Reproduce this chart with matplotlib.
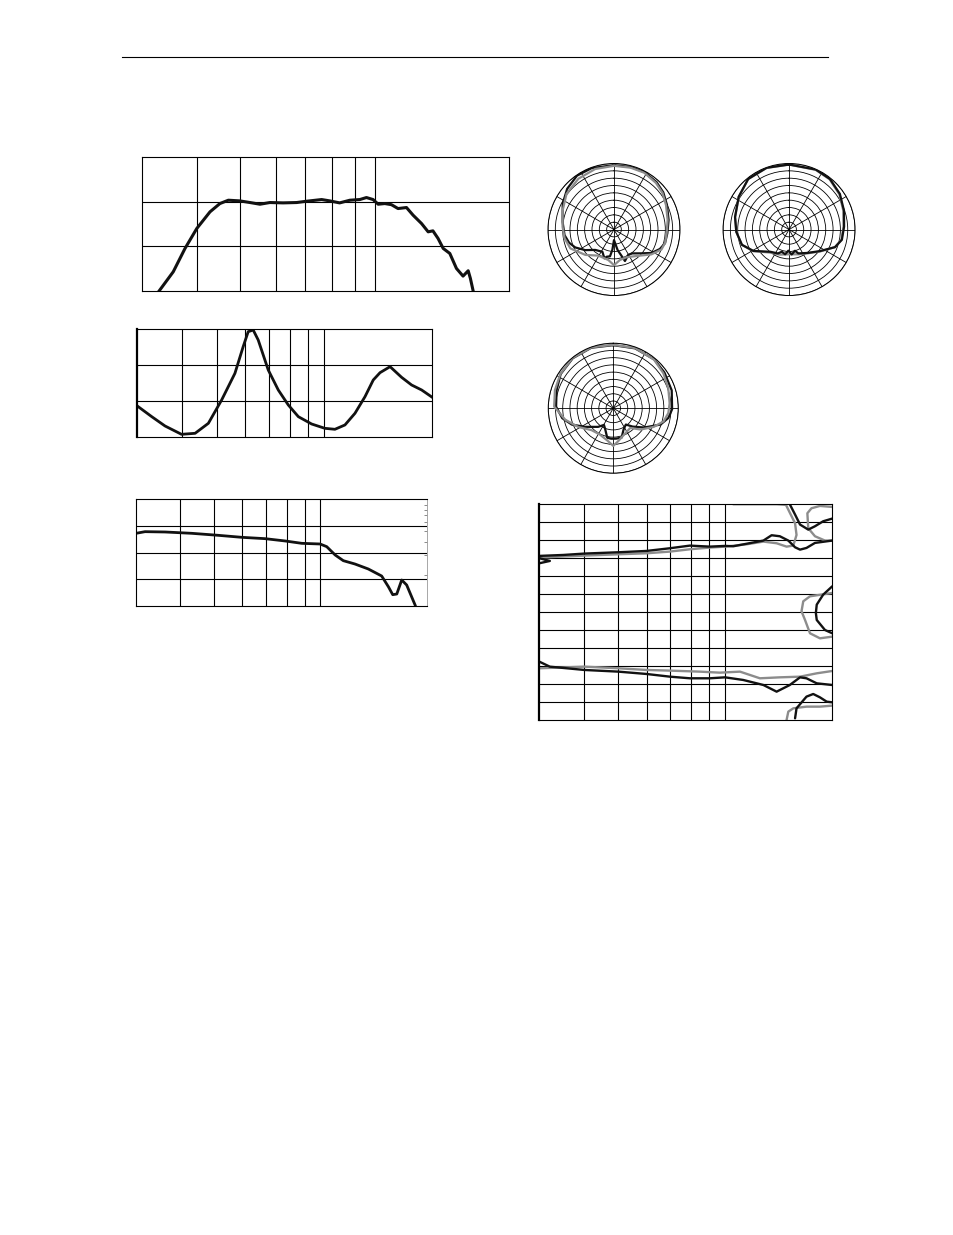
import numpy as np
import matplotlib.pyplot as plt
from matplotlib.lines import Line2D

# shared frequency grid (position along the axis, 0..1)
grid_x = [0.151, 0.269, 0.366, 0.446, 0.518, 0.580, 0.634]

# chart 1: frequency response
resp_x = [0.048, 0.086, 0.118, 0.150, 0.186, 0.213, 0.236, 0.267, 0.295, 0.322, 0.349,
          0.385, 0.422, 0.449, 0.490, 0.512, 0.539, 0.567, 0.594, 0.612, 0.630, 0.644,
          0.662, 0.680, 0.698, 0.721, 0.739, 0.762, 0.780, 0.793, 0.807, 0.821, 0.839,
          0.857, 0.875, 0.889, 0.895, 0.902]
resp_y = [0.0, 0.425, 0.948, 1.395, 1.769, 1.955, 2.03, 2.015, 1.978, 1.94, 1.978,
          1.97, 1.978, 2.007, 2.045, 2.015, 1.97, 2.03, 2.045, 2.09, 2.045, 1.94,
          1.955, 1.93, 1.843, 1.866, 1.694, 1.507, 1.321, 1.343, 1.172, 0.948, 0.836,
          0.5, 0.328, 0.448, 0.276, 0.015]

# chart 2: impedance
imp_x = [0.0, 0.049, 0.094, 0.150, 0.196, 0.241, 0.286, 0.331, 0.359, 0.376, 0.393,
         0.410, 0.444, 0.478, 0.512, 0.546, 0.591, 0.636, 0.670, 0.704, 0.738, 0.772,
         0.800, 0.823, 0.857, 0.896, 0.930, 0.964, 1.0]
imp_y = [0.868, 0.572, 0.314, 0.083, 0.111, 0.388, 1.034, 1.772, 2.511, 2.926, 2.972,
         2.695, 1.865, 1.311, 0.895, 0.572, 0.369, 0.249, 0.222, 0.342, 0.665, 1.126,
         1.588, 1.791, 1.957, 1.662, 1.449, 1.311, 1.108]

# chart 3: phase / group curve
ph_x = [0.0, 0.031, 0.1, 0.192, 0.283, 0.364, 0.444, 0.513, 0.570, 0.633, 0.656, 0.685,
        0.713, 0.753, 0.799, 0.845, 0.868, 0.883, 0.897, 0.914, 0.931, 0.960]
ph_y = [2.725, 2.787, 2.775, 2.725, 2.65, 2.575, 2.525, 2.438, 2.35, 2.325, 2.225, 1.913,
        1.7, 1.575, 1.388, 1.125, 0.725, 0.425, 0.45, 0.975, 0.788, 0.0375]
ph_right_ticks = [3.79, 3.6, 3.41, 3.14, 2.82, 2.41, 1.91, 1.16]

# chart 4: beamwidth contours (angle in degrees)
bw_black_up_x = [0.0, 0.082, 0.154, 0.270, 0.366, 0.446, 0.514, 0.582, 0.635, 0.662, 0.765,
                 0.793, 0.821, 0.850, 0.873, 0.890, 0.912, 0.941, 1.0]
bw_black_up_y = [93.8, 95.4, 97.7, 99.9, 102.1, 106.6, 111.0, 109.3, 110.5, 109.9, 119.4,
                 128.3, 126.6, 119.4, 108.2, 104.3, 107.1, 115.5, 119.4]
bw_black_hook_x = [0.0, 0.036, 0.0]
bw_black_hook_y = [81.5, 85.4, 90.0]
bw_black_top_x = [0.855, 0.873, 0.890, 0.918, 0.941, 0.969, 1.0]
bw_black_top_y = [180.0, 162.8, 146.1, 137.7, 143.3, 151.6, 156.1]
bw_gray_up_x = [0.0, 0.154, 0.270, 0.366, 0.446, 0.514, 0.582, 0.635, 0.708, 0.765, 0.810,
                0.844, 0.867, 0.878, 0.873, 0.856, 0.842, 0.810, 0.662]
bw_gray_up_y = [91.0, 94.3, 96.5, 98.2, 101.0, 104.9, 107.7, 109.3, 113.2, 117.7, 114.9,
                109.3, 111.0, 128.8, 148.3, 165.0, 178.9, 180.0, 180.0]
bw_gray_top_x = [1.0, 0.958, 0.929, 0.915, 0.918, 0.941, 0.975, 1.0]
bw_gray_top_y = [175.5, 177.2, 173.3, 165.0, 140.0, 126.6, 119.4, 119.4]
bw_black_mid_x = [1.0, 0.969, 0.947, 0.944, 0.947, 0.975, 1.0]
bw_black_mid_y = [43.1, 29.2, 12.5, -1.4, -13.1, -29.8, -35.3]
bw_gray_mid_x = [1.0, 0.924, 0.901, 0.895, 0.907, 0.924, 0.958, 1.0]
bw_gray_mid_y = [32.0, 26.4, 18.1, 1.4, -13.1, -35.3, -43.7, -40.9]
bw_black_low_x = [0.0, 0.036, 0.154, 0.270, 0.366, 0.446, 0.514, 0.582, 0.634, 0.696, 0.765,
                  0.810, 0.855, 0.890, 0.912, 0.947, 1.0]
bw_black_low_y = [-82.6, -91.0, -96.5, -99.3, -103.2, -107.7, -110.4, -110.4, -108.8, -113.2,
                  -121.6, -132.7, -121.6, -108.8, -110.4, -118.8, -121.6]
bw_gray_low_x = [0.0, 0.154, 0.270, 0.366, 0.446, 0.548, 0.616, 0.685, 0.753, 0.821, 0.890,
                 0.947, 1.0]
bw_gray_low_y = [-93.7, -91.0, -93.7, -96.5, -97.6, -99.3, -101.0, -99.3, -110.4, -108.8,
                 -107.7, -102.1, -98.2]
bw_black_bot_x = [0.873, 0.878, 0.912, 0.935, 0.958, 0.981, 1.0]
bw_black_bot_y = [-177.2, -160.5, -141.0, -136.6, -142.2, -149.4, -150.5]
bw_gray_bot_x = [0.844, 0.850, 0.867, 0.912, 0.958, 1.0]
bw_gray_bot_y = [-180.0, -166.0, -160.5, -157.7, -157.7, -156.0]

# polar patterns (angle clockwise from front, relative level 0..1)
p1_black_th = [0, 15, 28, 42, 53, 65, 80, 94, 105, 113, 122, 131, 142.6, 150.8, 160.8, 164.7,
               170, 180, 184.6, 188.5, 195, 198.4, 207.6, 222.6, 234.5, 245.2, 253.5, 263.5,
               278.4, 296.7, 311, 325.5, 340, 360]
p1_black_r = [0.975, 0.98, 0.985, 0.965, 0.935, 0.885, 0.84, 0.81, 0.80, 0.755, 0.67, 0.55,
              0.455, 0.44, 0.505, 0.40, 0.316, 0.16, 0.31, 0.41, 0.427, 0.46, 0.38, 0.42,
              0.537, 0.647, 0.708, 0.754, 0.787, 0.87, 0.94, 0.99, 0.99, 0.975]
p1_gray_th = [0, 15, 28, 42, 53, 65, 80, 94, 104.5, 112.8, 123.6, 137.6, 155.7, 169, 180,
              190.5, 210.7, 228.5, 246.6, 260, 273, 290.5, 307, 325, 342.7, 360]
p1_gray_r = [0.965, 0.97, 0.975, 0.95, 0.92, 0.87, 0.825, 0.80, 0.80, 0.78, 0.68, 0.54,
             0.46, 0.47, 0.54, 0.47, 0.46, 0.58, 0.72, 0.76, 0.78, 0.83, 0.90, 0.94, 0.96,
             0.965]

p2_black_th = [0, 24, 39, 55, 71, 87, 101, 111, 125, 142, 158.7, 164.3, 174, 181.8, 189, 198,
               205, 220, 239, 252, 267.5, 283, 303, 321, 340, 360]
p2_black_r = [0.985, 0.995, 0.985, 0.94, 0.88, 0.835, 0.815, 0.745, 0.57, 0.45, 0.388, 0.334,
              0.38, 0.32, 0.38, 0.354, 0.40, 0.44, 0.63, 0.75, 0.80, 0.84, 0.91, 0.985, 0.995,
              0.985]
p2_gray_th = [0, 24, 39, 55, 71, 87, 101, 111, 125, 142, 160, 180, 200, 220, 239, 252, 267.5,
              283, 303, 321, 340, 360]
p2_gray_r = [0.983, 0.99, 0.978, 0.93, 0.87, 0.826, 0.808, 0.745, 0.578, 0.458, 0.40, 0.375,
             0.405, 0.455, 0.635, 0.752, 0.80, 0.838, 0.908, 0.983, 0.993, 0.983]

p3_black_th = [0, 20, 40, 55, 73, 91, 100, 109, 122, 133.5, 142.4, 154.1, 164.2, 174.8, 184,
               191.6, 200.6, 209.2, 219.2, 236.6, 248.4, 259, 271.6, 287.6, 303, 321, 340, 360]
p3_black_r = [0.97, 0.98, 0.98, 0.96, 0.94, 0.905, 0.86, 0.77, 0.56, 0.41, 0.317, 0.363,
              0.47, 0.47, 0.47, 0.463, 0.35, 0.294, 0.37, 0.52, 0.685, 0.80, 0.88, 0.915,
              0.965, 0.99, 0.99, 0.97]
p3_gray_th = [0, 20, 40, 55, 70, 85, 95, 104.6, 114.8, 127.9, 139.4, 157.3, 171.2, 180, 189.4,
              207.4, 224.8, 241.8, 256.6, 271.6, 287.3, 303, 320.8, 340.4, 360]
p3_gray_r = [0.975, 0.985, 0.975, 0.94, 0.90, 0.87, 0.85, 0.80, 0.685, 0.533, 0.40, 0.437,
             0.51, 0.58, 0.51, 0.454, 0.475, 0.61, 0.76, 0.91, 0.94, 0.97, 0.995, 0.995, 0.975]

BLACK = "#111111"
GRAY = "#8c8c8c"

fig = plt.figure(figsize=(9.54, 12.35), dpi=100)
fig.add_artist(Line2D([0.128, 0.868], [0.9538, 0.9538], color="black", lw=0.8,
                      transform=fig.transFigure))


def grid_axes(rect, n_rows, left_lw=0.8):
    ax = fig.add_axes(rect)
    ax.set_xlim(0, 1)
    ax.set_ylim(0, n_rows)
    ax.set_xticks(grid_x)
    ax.set_yticks(range(1, n_rows))
    ax.grid(True, color="black", lw=0.8)
    ax.tick_params(length=0, labelbottom=False, labelleft=False)
    for s in ax.spines.values():
        s.set_linewidth(0.8)
    ax.spines["left"].set_linewidth(left_lw)
    return ax


ax1 = grid_axes([0.1485, 0.7646, 0.385, 0.1083], 3)
ax1.plot(resp_x, resp_y, color=BLACK, lw=2.2, solid_joinstyle="round")

ax2 = grid_axes([0.1439, 0.6459, 0.3092, 0.0877], 3, left_lw=1.6)
ax2.plot(imp_x, imp_y, color=BLACK, lw=2.0, solid_joinstyle="round")

ax3 = grid_axes([0.1426, 0.5093, 0.3047, 0.0864], 4)
ax3.plot(ph_x, ph_y, color=BLACK, lw=2.0, solid_joinstyle="round")
ax3.spines["right"].set_color("#999999")
ax3.spines["right"].set_linewidth(0.6)
ax3.set_yticks(ph_right_ticks, minor=True)
ax3.tick_params(which="minor", left=False, right=True, direction="in", length=2,
                width=0.6, color="#777777")

ax4 = fig.add_axes([0.5653, 0.417, 0.3071, 0.1747])
ax4.set_xlim(0, 1)
ax4.set_ylim(-180, 180)
ax4.set_xticks(grid_x)
ax4.set_yticks(range(-150, 180, 30))
ax4.grid(True, color="black", lw=0.8)
ax4.tick_params(length=0, labelbottom=False, labelleft=False)
for s in ax4.spines.values():
    s.set_linewidth(0.8)
ax4.spines["left"].set_linewidth(1.6)
for xs, ys, c in [(bw_gray_up_x, bw_gray_up_y, GRAY), (bw_gray_top_x, bw_gray_top_y, GRAY),
                  (bw_gray_mid_x, bw_gray_mid_y, GRAY), (bw_gray_low_x, bw_gray_low_y, GRAY),
                  (bw_gray_bot_x, bw_gray_bot_y, GRAY),
                  (bw_black_up_x, bw_black_up_y, BLACK), (bw_black_hook_x, bw_black_hook_y, BLACK),
                  (bw_black_top_x, bw_black_top_y, BLACK), (bw_black_mid_x, bw_black_mid_y, BLACK),
                  (bw_black_low_x, bw_black_low_y, BLACK), (bw_black_bot_x, bw_black_bot_y, BLACK)]:
    ax4.plot(xs, ys, color=c, lw=1.7, solid_capstyle="round", solid_joinstyle="round")


def polar_axes(rect):
    ax = fig.add_axes(rect, projection="polar")
    ax.set_theta_zero_location("N")
    ax.set_theta_direction(-1)
    ax.set_rlim(0, 1)
    ax.set_rgrids(np.arange(1, 10) / 9, labels=[])
    ax.set_thetagrids(range(0, 360, 30), labels=[])
    ax.grid(True, color="black", lw=0.6)
    ax.spines["polar"].set_linewidth(0.7)
    ax.tick_params(length=0)
    return ax


# last flag: draw black on top
polars = [
    ([0.5744, 0.7607, 0.1384, 0.1069], p1_gray_th, p1_gray_r, p1_black_th, p1_black_r, False),
    ([0.7579, 0.7607, 0.1384, 0.1069], p2_gray_th, p2_gray_r, p2_black_th, p2_black_r, True),
    ([0.5747, 0.6168, 0.1363, 0.1053], p3_gray_th, p3_gray_r, p3_black_th, p3_black_r, False),
]
for rect, gth, gr, bth, br, black_top in polars:
    ax = polar_axes(rect)
    zb = 3 if black_top else 2
    ax.plot(np.radians(bth), br, color=BLACK, lw=1.6, solid_joinstyle="round", zorder=zb)
    ax.plot(np.radians(gth), gr, color=GRAY, lw=1.6, solid_joinstyle="round", zorder=2.5)

fig.savefig("out.png", dpi=100)
